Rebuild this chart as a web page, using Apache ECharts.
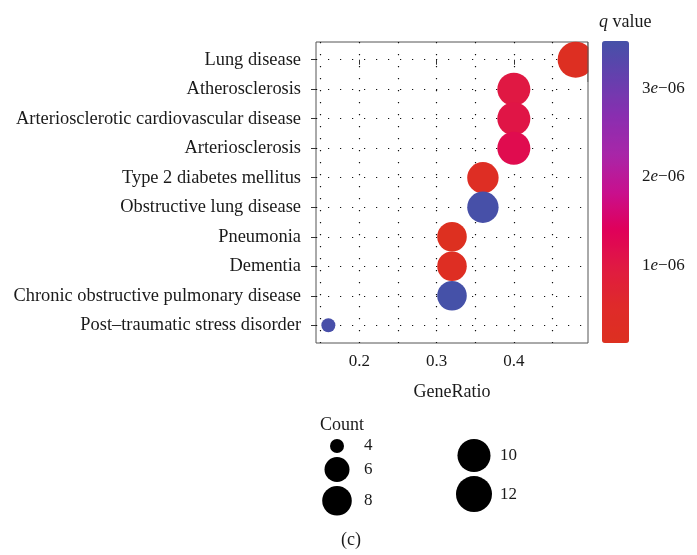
<!DOCTYPE html>
<html>
<head>
<meta charset="utf-8">
<script src="https://cdn.jsdelivr.net/npm/echarts@6/dist/echarts.min.js"></script>
<style>
  html, body { margin: 0; padding: 0; background: #fff; }
  #chart { width: 697px; height: 555px; }
</style>
</head>
<body>
<div id="chart"></div>
<script>
// data
const categories = ['Lung disease', 'Atherosclerosis', 'Arteriosclerotic cardiovascular disease',
  'Arteriosclerosis', 'Type 2 diabetes mellitus', 'Obstructive lung disease', 'Pneumonia',
  'Dementia', 'Chronic obstructive pulmonary disease', 'Post\u2013traumatic stress disorder'];
const geneRatio = [0.48, 0.40, 0.40, 0.40, 0.36, 0.36, 0.32, 0.32, 0.32, 0.16];
const counts = [12, 10, 10, 10, 9, 9, 8, 8, 8, 4];
const qValues = [2.0e-7, 1.0e-6, 1.05e-6, 1.2e-6, 2.8e-7, 3.52e-6, 1.2e-7, 2.5e-7, 3.54e-6, 3.5e-6];
const xTicks = [0.2, 0.3, 0.4];
const xGrid = [0.15, 0.2, 0.25, 0.3, 0.35, 0.4, 0.45];
const qTicks = [1e-6, 2e-6, 3e-6];
const legendColumns = [[4, 6, 8], [10, 12]];

const FONT = '"Liberation Serif", "DejaVu Serif", serif';
const TXT = '#1a1a1a';

// size scale like ggplot scale_size (area)
const countMin = Math.min(...counts), countMax = Math.max(...counts);
function sizeOf(c) {
  return 14 + 22 * Math.sqrt((c - countMin) / (countMax - countMin));
}
const qMin = Math.min(...qValues), qMax = Math.max(...qValues);

const points = categories.map((c, i) => [geneRatio[i], i, qValues[i], counts[i]]);

// legend keys stacked per column (pixel coords inside legend grid)
const legendColX = [37, 174];
const legendLabelX = [64, 200];
const legendPts = [], legendLabels = [];
legendColumns.forEach((col, ci) => {
  let top = 7;
  col.forEach(c => {
    const d = sizeOf(c);
    const cy = top + (d + 4) / 2;
    legendPts.push([legendColX[ci], cy, c]);
    legendLabels.push({ value: [legendLabelX[ci], cy], name: String(c) });
    top += d + 4;
  });
});

function sciLabel(v) {
  const exp = Math.floor(Math.log10(v) + 1e-9);
  const mant = Math.round(v / Math.pow(10, exp));
  const ex = String(Math.abs(exp)).padStart(2, '0');
  return '{n|' + mant + '}{i|e}{n|\u2212' + ex + '}';
}

const dotted = { color: '#111', width: 1.2, type: [1.2, 10.8] };

const chart = echarts.init(document.getElementById('chart'));
chart.setOption({
  animation: false,
  backgroundColor: '#fff',
  title: [
    { text: '{i|q} value', left: 594, top: 8,
      textStyle: { rich: { i: { fontFamily: FONT, fontStyle: 'italic', fontSize: 18, color: TXT } },
        fontFamily: FONT, fontSize: 18, fontWeight: 'normal', color: TXT } },
    { text: 'Count', left: 315, top: 411,
      textStyle: { fontFamily: FONT, fontSize: 18, fontWeight: 'normal', color: TXT } },
    { text: '(c)', left: 336, top: 526,
      textStyle: { fontFamily: FONT, fontSize: 18, fontWeight: 'normal', color: TXT } }
  ],
  grid: [
    { left: 316, top: 42, width: 272, height: 301, show: true, borderColor: '#555', borderWidth: 1, backgroundColor: '#fff' },
    { left: 300, top: 430, width: 240, height: 90 },
    { left: 602, top: 41, width: 27, height: 302 }
  ],
  xAxis: [
    { gridIndex: 0, type: 'value', min: 0.144, max: 0.496,
      name: 'GeneRatio', nameLocation: 'middle', nameGap: 40,
      nameTextStyle: { fontFamily: FONT, fontSize: 18, color: TXT },
      axisLine: { show: false },
      axisTick: { show: true, length: 5, customValues: xTicks, lineStyle: { color: '#333' } },
      axisLabel: { customValues: xTicks, margin: 10, fontFamily: FONT, fontSize: 17, color: TXT,
        formatter: v => v.toFixed(1) },
      splitLine: { show: false } },
    { gridIndex: 1, type: 'value', min: 0, max: 240, show: false },
    { gridIndex: 2, type: 'value', min: 0, max: 1, show: false }
  ],
  yAxis: [
    { gridIndex: 0, type: 'value', min: -0.6, max: categories.length - 0.4, inverse: true,
      axisLine: { show: false },
      axisTick: { show: true, length: 5, customValues: categories.map((c, i) => i), lineStyle: { color: '#333' } },
      axisLabel: { customValues: categories.map((c, i) => i), margin: 15, fontFamily: FONT, fontSize: 18.4, color: TXT,
        formatter: v => categories[Math.round(v)] },
      splitLine: { show: false } },
    { gridIndex: 1, type: 'value', min: 0, max: 90, inverse: true, show: false },
    { gridIndex: 2, type: 'value', min: qMin, max: qMax, position: 'right',
      axisLine: { show: false },
      axisTick: { show: true, length: 4, customValues: qTicks, lineStyle: { color: '#444', width: 1.2 } },
      axisLabel: { customValues: qTicks, margin: 13, formatter: sciLabel,
        rich: { n: { fontFamily: FONT, fontSize: 17, color: TXT }, i: { fontFamily: FONT, fontStyle: 'italic', fontSize: 17, color: TXT } } },
      splitLine: { show: false } }
  ],
  visualMap: {
    type: 'continuous', seriesIndex: 1, dimension: 2,
    min: qMin, max: qMax, orient: 'vertical',
    left: 602, top: 41, padding: 0, itemWidth: 27, itemHeight: 302,
    calculable: false, hoverLink: false,
    inRange: { color: ['#DD3020', '#DF2A2A', '#E01A42', '#E0005A', '#C8108E', '#A826A8', '#8A2EB0', '#663FAE', '#4551A8'] }
  },
  // trim the top-right bubble at the panel edge
  graphic: [
    { type: 'rect', z: 50, shape: { x: 588.5, y: 36, width: 12, height: 46 }, style: { fill: '#fff' } },
    { type: 'line', z: 51, shape: { x1: 588, y1: 42, x2: 588, y2: 82 }, style: { stroke: '#555', lineWidth: 1 } }
  ],
  series: [
    { type: 'scatter', xAxisIndex: 0, yAxisIndex: 0, data: [], silent: true, z: 1,
      markLine: { silent: true, z: 1, symbol: ['none', 'none'], label: { show: false }, lineStyle: dotted,
        data: xGrid.map(x => ({ xAxis: x })).concat(categories.map((c, i) => ({ yAxis: i }))) } },
    { type: 'scatter', xAxisIndex: 0, yAxisIndex: 0, z: 3,
      data: points, symbolSize: v => sizeOf(v[3]), itemStyle: { opacity: 1 } },
    { type: 'scatter', xAxisIndex: 1, yAxisIndex: 1, silent: true,
      data: legendPts, symbolSize: v => sizeOf(v[2]), itemStyle: { color: '#000', opacity: 1 } },
    { type: 'scatter', xAxisIndex: 1, yAxisIndex: 1, silent: true, symbolSize: 0,
      data: legendLabels, itemStyle: { opacity: 1 },
      label: { show: true, position: 'right', distance: 0, formatter: p => p.name,
        fontFamily: FONT, fontSize: 17, color: TXT } }
  ]
});
</script>
</body>
</html>
